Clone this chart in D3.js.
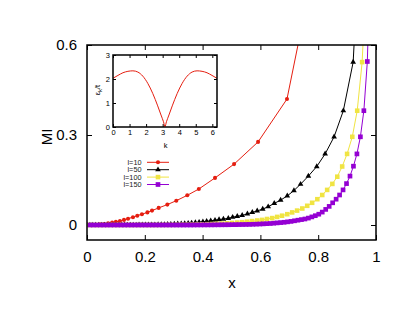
<!DOCTYPE html>
<html>
<head>
<meta charset="utf-8">
<script src="https://cdn.jsdelivr.net/npm/d3@7"></script>
<style>
  body { margin: 0; background: #fff; }
  svg { display: block; font-family: "Liberation Sans", Arial, sans-serif; }
</style>
</head>
<body>
<svg id="chart"></svg>
<script>
// taille de la fenêtre
var WIDTH = 415;
var HEIGHT = 321;

// ticks des axes
const xTicks = [0, 0.2, 0.4, 0.6, 0.8, 1];
const yTicks = [0, 0.3, 0.6];
const kTicks = [0, 1, 2, 3, 4, 5, 6];
const eTicks = [0, 1, 2, 3];

// l=10
const xL10 = [0, 0.017, 0.031, 0.045, 0.059, 0.073, 0.087, 0.100, 0.114, 0.128, 0.142, 0.159, 0.174, 0.190, 0.209, 0.225, 0.248, 0.278, 0.309, 0.347, 0.387, 0.443, 0.509, 0.592, 0.692, 0.806];
const yL10 = [0, 0.0003, 0.001, 0.0021, 0.0036, 0.0055, 0.0079, 0.0104, 0.0135, 0.017, 0.021, 0.026, 0.031, 0.036, 0.042, 0.048, 0.057, 0.068, 0.081, 0.099, 0.12, 0.157, 0.203, 0.277, 0.42, 0.96];

// l=50
const xL50 = [0, 0.010, 0.020, 0.030, 0.040, 0.050, 0.060, 0.070, 0.080, 0.090, 0.100, 0.110, 0.120, 0.130,
  0.140, 0.150, 0.160, 0.170, 0.180,
  0.191, 0.202, 0.213, 0.224, 0.235, 0.246, 0.257, 0.268, 0.279, 0.290,
  0.302, 0.314, 0.326, 0.338, 0.350, 0.362,
  0.375, 0.388, 0.401, 0.414,
  0.428, 0.443, 0.457, 0.472, 0.489, 0.504, 0.520, 0.537, 0.555, 0.572,
  0.589, 0.608, 0.627, 0.648, 0.670, 0.693, 0.716, 0.739, 0.766, 0.795,
  0.824, 0.855, 0.887, 0.921, 0.956];
const yL50 = [0, 0, 0, 0, 0, 0, 0, 0, 0, 0, 0, 0, 0, 0,
  0.0001, 0.0002, 0.0002, 0.0003, 0.0004,
  0.0005, 0.0006, 0.0007, 0.0009, 0.0011, 0.0013, 0.0016, 0.0019, 0.0023, 0.0027,
  0.0032, 0.0038, 0.0044, 0.0051, 0.006, 0.0069,
  0.008, 0.0093, 0.0107, 0.0123,
  0.014, 0.016, 0.018, 0.020, 0.022, 0.026, 0.029, 0.032, 0.037, 0.042,
  0.047, 0.053, 0.061, 0.072, 0.083, 0.097, 0.115, 0.136, 0.163, 0.195,
  0.237, 0.294, 0.381, 0.543, 1.2];

// l=100
const xL100 = [0, 0.017, 0.035, 0.052, 0.069, 0.087, 0.104, 0.121, 0.139, 0.156, 0.173, 0.190, 0.208, 0.225,
  0.242, 0.260, 0.277, 0.294, 0.312, 0.329, 0.346, 0.364, 0.381, 0.398,
  0.416, 0.433, 0.450, 0.468, 0.485, 0.502, 0.520, 0.537, 0.554, 0.571,
  0.589, 0.606, 0.623, 0.641, 0.658, 0.675, 0.693, 0.710, 0.727, 0.745,
  0.762, 0.779, 0.797, 0.814, 0.831, 0.849, 0.866, 0.883, 0.900, 0.918,
  0.935, 0.952, 0.970];
const yL100 = [0, 0, 0, 0, 0, 0, 0, 0, 0, 0, 0, 0, 0, 0,
  0.0001, 0.0002, 0.0003, 0.0004, 0.0006, 0.0008, 0.001, 0.0013, 0.0017, 0.0021,
  0.0026, 0.0032, 0.0039, 0.0047, 0.0057, 0.0068, 0.008, 0.0095, 0.011, 0.013,
  0.015, 0.017, 0.020, 0.023, 0.027, 0.031, 0.036, 0.042, 0.048, 0.055,
  0.064, 0.074, 0.086, 0.1, 0.117, 0.137, 0.161, 0.195, 0.237, 0.294,
  0.381, 0.543, 0.9];

// l=150
const xL150 = [0.010, 0.022, 0.034, 0.046, 0.058, 0.070, 0.082, 0.094, 0.106, 0.118,
  0.130, 0.142, 0.154, 0.166, 0.178, 0.190, 0.202, 0.214, 0.226, 0.238,
  0.250, 0.262, 0.274, 0.286, 0.298, 0.310, 0.322, 0.334, 0.346, 0.358,
  0.370, 0.382, 0.394, 0.406, 0.418, 0.430, 0.442, 0.454, 0.466, 0.478,
  0.490, 0.502, 0.514, 0.526, 0.538, 0.550, 0.562, 0.574, 0.586, 0.598,
  0.610, 0.622, 0.634, 0.646, 0.658, 0.670, 0.682, 0.694, 0.706, 0.718,
  0.730, 0.742, 0.754, 0.766, 0.778, 0.790, 0.802, 0.814, 0.826, 0.838,
  0.850, 0.862, 0.874, 0.886, 0.898, 0.910, 0.922, 0.934, 0.946, 0.958,
  0.970, 0.982];
const yL150 = [0, 0, 0, 0, 0, 0, 0, 0, 0, 0,
  0, 0, 0, 0, 0, 0, 0, 0, 0, 0,
  0, 0, 0, 0, 0, 0, 0, 0, 0, 0,
  0.0001, 0.0002, 0.0002, 0.0003, 0.0003, 0.0004, 0.0005, 0.0006, 0.0007, 0.0008,
  0.0009, 0.0011, 0.0012, 0.0014, 0.0016, 0.0018, 0.002, 0.0024, 0.0028, 0.0033,
  0.0038, 0.0044, 0.005, 0.006, 0.007, 0.008, 0.009, 0.0105, 0.012, 0.014,
  0.016, 0.018, 0.020, 0.023, 0.027, 0.031, 0.036, 0.043, 0.052, 0.062,
  0.074, 0.086, 0.1, 0.117, 0.138, 0.163, 0.196, 0.237, 0.294, 0.381,
  0.545, 0.95];

// encart : relation de dispersion
const kVals = [0, 0.3, 0.6, 0.9, 1.2, 1.5, 1.8, 2.1, 2.4, 2.7, 2.9, 3.05, 3.14, 3.23, 3.38, 3.58, 3.88, 4.18, 4.48, 4.78, 5.08, 5.38, 5.68, 5.98, 6.28];
const eVals = [2.03, 2.15, 2.26, 2.32, 2.34, 2.29, 2.12, 1.82, 1.40, 0.88, 0.50, 0.22, 0.02, 0.22, 0.50, 0.88, 1.40, 1.82, 2.12, 2.29, 2.34, 2.32, 2.26, 2.15, 2.03];

const seriesNames = ['l=10', 'l=50', 'l=100', 'l=150'];
const seriesColors = ['#e51e10', '#000000', '#f0e442', '#9400d3'];

//Création du SVG
const svg = d3.select('#chart')
    .attr('width', WIDTH)
    .attr('height', HEIGHT);

var x = d3.scaleLinear().domain([0, 1]).range([87, 376]);
var y = d3.scaleLinear().domain([-0.05, 0.6]).range([240, 45]);

svg.append('clipPath').attr('id', 'clip')
  .append('rect')
    .attr('x', x(0)).attr('y', y(0.6))
    .attr('width', x(1) - x(0)).attr('height', y(-0.05) - y(0.6));

// axes avec ticks vers l'intérieur
function styleAxis(g, size) {
  g.select('.domain').remove();
  g.selectAll('.tick line').attr('stroke', '#000').attr('stroke-width', 1);
  g.selectAll('.tick text').attr('fill', '#000').style('font-size', size + 'px');
}
svg.append('g').attr('transform', 'translate(0,' + y(-0.05) + ')')
  .call(d3.axisBottom(x).tickValues(xTicks).tickSize(-5).tickPadding(11).tickFormat(d => String(d)))
  .call(g => styleAxis(g, 15));
svg.append('g').attr('transform', 'translate(0,' + y(0.6) + ')')
  .call(d3.axisTop(x).tickValues(xTicks).tickSize(-5).tickFormat(''))
  .call(g => styleAxis(g, 15));
svg.append('g').attr('transform', 'translate(' + x(0) + ',0)')
  .call(d3.axisLeft(y).tickValues(yTicks).tickSize(-5).tickPadding(10).tickFormat(d => String(d)))
  .call(g => styleAxis(g, 15));
svg.append('g').attr('transform', 'translate(' + x(1) + ',0)')
  .call(d3.axisRight(y).tickValues(yTicks).tickSize(-5).tickFormat(''))
  .call(g => styleAxis(g, 15));

// titres des axes
svg.append('text').attr('x', 232).attr('y', 288).attr('text-anchor', 'middle')
  .style('font-size', '15px').text('x');
svg.append('text').attr('transform', 'translate(51.5,137) rotate(-90)').attr('text-anchor', 'middle')
  .style('font-size', '15px').text('MI');

// symboles
const symbols = [
  d3.symbol(d3.symbolCircle, 13),
  d3.symbol(d3.symbolTriangle, 14),
  d3.symbol(d3.symbolSquare, 21),
  d3.symbol(d3.symbolSquare, 22)
];

const allX = [xL10, xL50, xL100, xL150];
const allY = [yL10, yL50, yL100, yL150];

var line = d3.line().x(d => x(d[0])).y(d => y(d[1]));
var plot = svg.append('g').attr('clip-path', 'url(#clip)');

seriesNames.forEach((name, i) => {
  const pts = d3.zip(allX[i], allY[i]);
  const g = plot.append('g');
  g.append('path').datum(pts)
    .attr('d', line)
    .attr('fill', 'none')
    .attr('stroke', seriesColors[i])
    .attr('stroke-width', 1);
  g.selectAll('path.pt').data(pts).enter().append('path')
    .attr('class', 'pt')
    .attr('d', symbols[i])
    .attr('transform', d => 'translate(' + x(d[0]) + ',' + y(d[1]) + ')')
    .attr('fill', seriesColors[i]);
});

// cadre principal
svg.append('rect')
  .attr('x', x(0)).attr('y', y(0.6))
  .attr('width', x(1) - x(0)).attr('height', y(-0.05) - y(0.6))
  .attr('fill', 'none').attr('stroke', '#000').attr('stroke-width', 1.5);

// légende
var legend = svg.append('g');
seriesNames.forEach((name, i) => {
  const ly = 162.3 + i * 7.4;
  legend.append('text').attr('x', 141.5).attr('y', ly + 2.6)
    .attr('text-anchor', 'end').style('font-size', '7.3px').attr('fill', '#222').text(name);
  legend.append('line').attr('x1', 147).attr('x2', 169).attr('y1', ly).attr('y2', ly)
    .attr('stroke', seriesColors[i]).attr('stroke-width', 1);
  legend.append('path').attr('d', symbols[i]).attr('transform', 'translate(158,' + ly + ')')
    .attr('fill', seriesColors[i]);
});

// encart
var kx = d3.scaleLinear().domain([0, 2 * Math.PI]).range([113, 217]);
var ey = d3.scaleLinear().domain([0, 3]).range([127, 55]);
var inset = svg.append('g');
inset.append('rect').attr('x', 113).attr('y', 55).attr('width', 104).attr('height', 72).attr('fill', '#fff');
inset.append('g').attr('transform', 'translate(0,' + ey(0) + ')')
  .call(d3.axisBottom(kx).tickValues(kTicks).tickSize(-3).tickPadding(3).tickFormat(d => String(d)))
  .call(g => styleAxis(g, 7.5));
inset.append('g').attr('transform', 'translate(0,' + ey(3) + ')')
  .call(d3.axisTop(kx).tickValues(kTicks).tickSize(-3).tickFormat(''))
  .call(g => styleAxis(g, 7.5));
inset.append('g').attr('transform', 'translate(' + kx(0) + ',0)')
  .call(d3.axisLeft(ey).tickValues(eTicks).tickSize(-3).tickPadding(3).tickFormat(d => String(d)))
  .call(g => styleAxis(g, 7.5));
inset.append('g').attr('transform', 'translate(' + kx(2 * Math.PI) + ',0)')
  .call(d3.axisRight(ey).tickValues(eTicks).tickSize(-3).tickFormat(''))
  .call(g => styleAxis(g, 7.5));
inset.append('path').datum(d3.zip(kVals, eVals))
  .attr('d', d3.line().x(d => kx(d[0])).y(d => ey(d[1])).curve(d3.curveMonotoneX))
  .attr('fill', 'none').attr('stroke', '#e51e10').attr('stroke-width', 1);
inset.append('rect').attr('x', 113).attr('y', 55).attr('width', 104).attr('height', 72)
  .attr('fill', 'none').attr('stroke', '#000').attr('stroke-width', 1.5);
inset.append('text').attr('x', 165.5).attr('y', 147.5).attr('text-anchor', 'middle')
  .style('font-size', '7.5px').text('k');
var yl = inset.append('text').attr('transform', 'translate(99.5,90) rotate(-90)')
  .attr('text-anchor', 'middle').style('font-size', '7.5px');
yl.append('tspan').text('ε');
yl.append('tspan').attr('dy', 2).style('font-size', '5.5px').text('k');
yl.append('tspan').attr('dy', -2).text('/t');
</script>
</body>
</html>
